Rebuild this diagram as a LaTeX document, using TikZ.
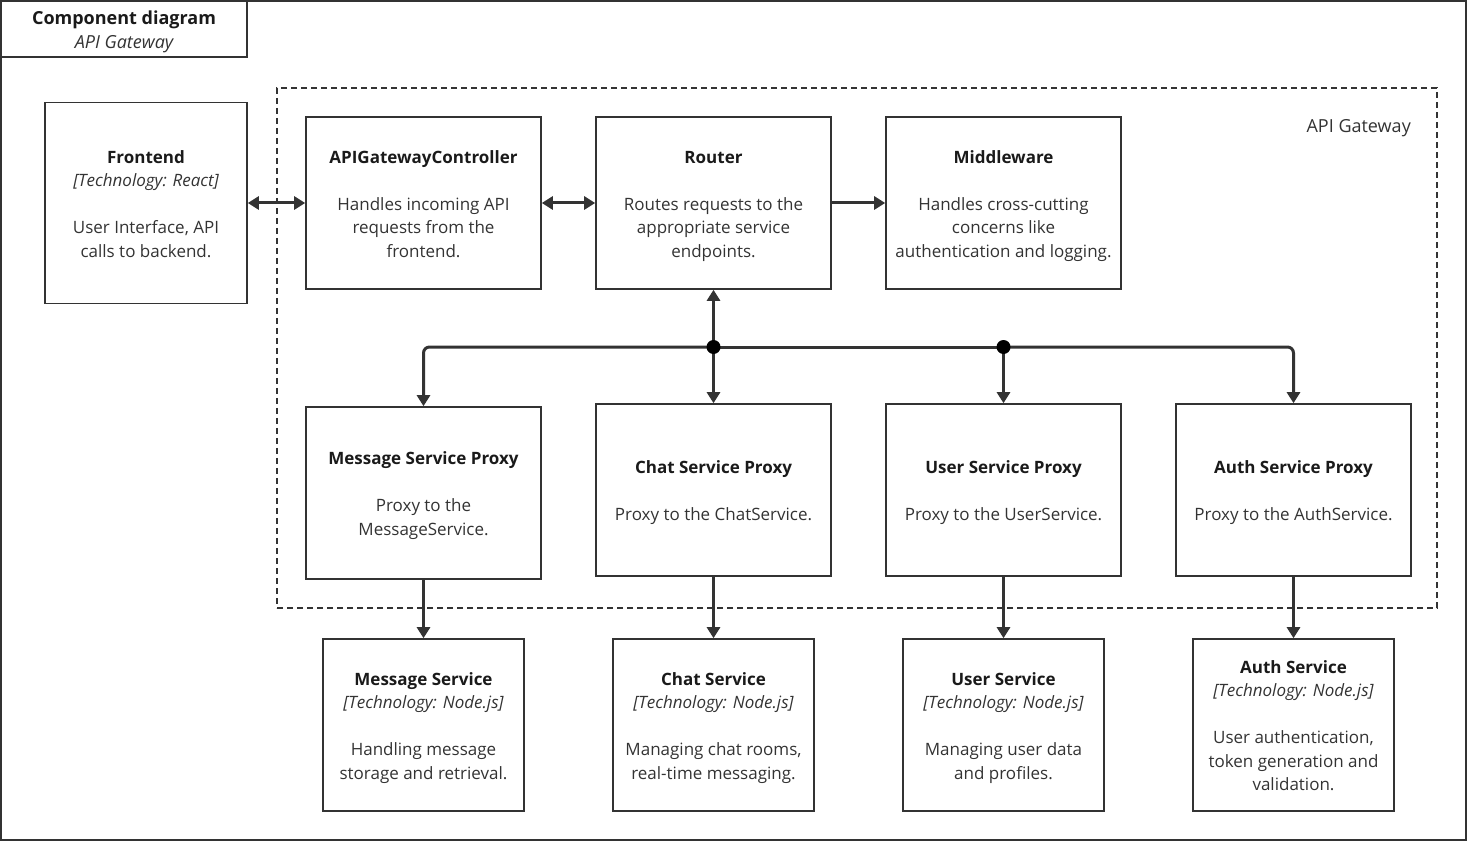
\documentclass[tikz,border=0pt]{standalone}
\usepackage{fontspec}
\setmainfont{Open Sans}
\usetikzlibrary{arrows.meta}
\definecolor{linec}{HTML}{333333}
\definecolor{boxc}{HTML}{333333}
\definecolor{textc}{HTML}{333333}
\definecolor{titlec}{HTML}{1A1A1A}
\newcommand\topst{\rule{0pt}{21.5pt}}
\begin{document}
\begin{tikzpicture}[x=1pt,y=-1pt,
  comp/.style={draw=boxc, line width=1.6pt, align=center, inner sep=0pt, text=textc,
    font=\fontsize{17}{23.5}\selectfont},
  wide/.style={comp, minimum width=235pt, minimum height=172pt},
  narrow/.style={comp, minimum width=201pt, minimum height=172pt},
  conn/.style={draw=linec, line width=3pt},
  tip/.style={-{Triangle[width=13pt,length=11pt]}},
  both/.style={{Triangle[width=13pt,length=11pt]}-{Triangle[width=13pt,length=11pt]}},
]
\useasboundingbox (0,0) rectangle (1467,842);
% outer frame
\node[draw=boxc, line width=1.6pt, minimum width=1465pt, minimum height=839pt, inner sep=0pt] (frame) at (733.5,420.5) {};
% title box
\node[draw=boxc, line width=1.6pt, minimum width=246pt, minimum height=56pt, inner sep=0pt, align=center, font=\fontsize{18}{24}\selectfont] (title) at (124,29)
  {\rule{0pt}{21.5pt}\textcolor{titlec}{\bfseries Component diagram}\\\textcolor{textc}{\itshape API Gateway}\strut};
% boundary
\node[draw=linec, line width=1.4pt, dash pattern=on 6pt off 4pt, minimum width=1160pt, minimum height=520pt, inner sep=0pt] (gw) at (857,348) {};
\node[text=textc, font=\fontsize{18}{24}\selectfont, anchor=east, inner sep=0pt] (gwlabel) at (1411,128) {API Gateway};

% nodes
\node[comp, minimum width=202pt, minimum height=201pt] (fe) at (146,203)
  {\topst{\bfseries\color{titlec}Frontend}\\{\itshape [Technology: React]}\\[23.5pt]User Interface, API\\calls to backend.\strut};
\node[wide] (ctrl) at (423.5,203)
  {\topst{\bfseries\color{titlec}APIGatewayController}\\[23.5pt]Handles incoming API\\requests from the\\frontend.\strut};
\node[wide] (router) at (713.5,203)
  {\topst{\bfseries\color{titlec}Router}\\[23.5pt]Routes requests to the\\appropriate service\\endpoints.\strut};
\node[wide] (mw) at (1003.5,203)
  {\topst{\bfseries\color{titlec}Middleware}\\[23.5pt]Handles cross-cutting\\concerns like\\authentication and logging.\strut};

\node[wide] (msgp) at (423.5,493)
  {\topst{\bfseries\color{titlec}Message Service Proxy}\\[23.5pt]Proxy to the\\MessageService.\strut};
\node[wide] (chatp) at (713.5,490)
  {\topst{\bfseries\color{titlec}Chat Service Proxy}\\[23.5pt]Proxy to the ChatService.\strut};
\node[wide] (userp) at (1003.5,490)
  {\topst{\bfseries\color{titlec}User Service Proxy}\\[23.5pt]Proxy to the UserService.\strut};
\node[wide] (authp) at (1293.5,490)
  {\topst{\bfseries\color{titlec}Auth Service Proxy}\\[23.5pt]Proxy to the AuthService.\strut};

\node[narrow] (msg) at (423.5,725)
  {\topst{\bfseries\color{titlec}Message Service}\\{\itshape [Technology: Node.js]}\\[23.5pt]Handling message\\storage and retrieval.\strut};
\node[narrow] (chat) at (713.5,725)
  {\topst{\bfseries\color{titlec}Chat Service}\\{\itshape [Technology: Node.js]}\\[23.5pt]Managing chat rooms,\\real-time messaging.\strut};
\node[narrow] (user) at (1003.5,725)
  {\topst{\bfseries\color{titlec}User Service}\\{\itshape [Technology: Node.js]}\\[23.5pt]Managing user data\\and profiles.\strut};
\node[narrow] (auth) at (1293.5,725)
  {\topst{\bfseries\color{titlec}Auth Service}\\{\itshape [Technology: Node.js]}\\[23.5pt]User authentication,\\token generation and\\validation.\strut};

% connectors
\draw[conn, both] (fe.east) -- (ctrl.west);
\draw[conn, both] (ctrl.east) -- (router.west);
\draw[conn, tip] (router.east) -- (mw.west);

\coordinate (j1) at (713.5,347);
\coordinate (j2) at (1003.5,347);
\draw[conn, tip] (j1) -- (router.south);
\draw[conn, tip] (j1) -- (chatp.north);
\draw[conn, tip] (j2) -- (userp.north);
\draw[conn] (j1) -- (j2);
\draw[conn, tip, rounded corners=6pt] (j1) -| (msgp.north);
\draw[conn, tip, rounded corners=6pt] (j2) -| (authp.north);
\fill[black] (j1) circle (7pt);
\fill[black] (j2) circle (7pt);

\draw[conn, tip] (msgp.south) -- (msg.north);
\draw[conn, tip] (chatp.south) -- (chat.north);
\draw[conn, tip] (userp.south) -- (user.north);
\draw[conn, tip] (authp.south) -- (auth.north);
\end{tikzpicture}
\end{document}
